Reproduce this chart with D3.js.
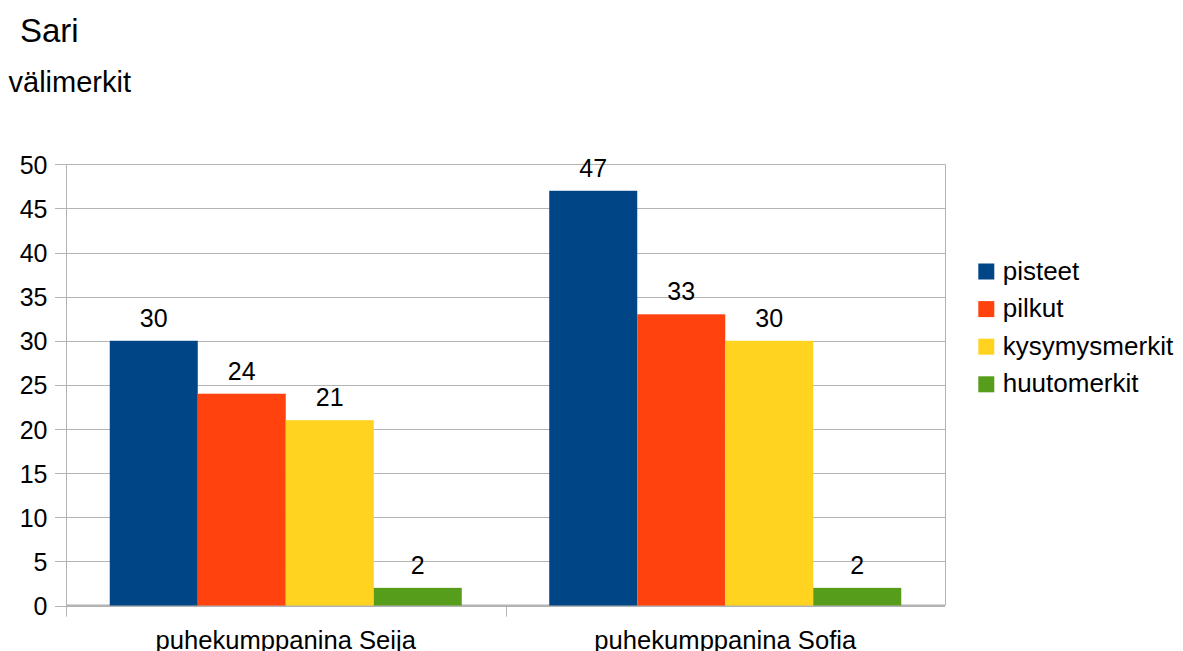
<!DOCTYPE html>
<html>
<head>
<meta charset="utf-8">
<script src="https://cdn.jsdelivr.net/npm/d3@7/dist/d3.min.js"></script>
<style>
  html, body { margin: 0; padding: 0; background: #fff; }
  svg { display: block; font-family: "Liberation Sans", Arial, sans-serif; }
</style>
</head>
<body>
<svg id="chart" width="1183" height="651"></svg>
<script>
// Punctuation counts per conversation partner
const categories = ["puhekumppanina Seija", "puhekumppanina Sofia"];
const seriesNames = ["pisteet", "pilkut", "kysymysmerkit", "huutomerkit"];
const pisteet = [30, 47];
const pilkut = [24, 33];
const kysymysmerkit = [21, 30];
const huutomerkit = [2, 2];
const yTicks = [0, 5, 10, 15, 20, 25, 30, 35, 40, 45, 50];
const colors = ["#004586", "#ff420e", "#ffd320", "#579d1c"];

const seriesValues = [pisteet, pilkut, kysymysmerkit, huutomerkit];

const svg = d3.select("#chart");
const plot = { left: 66, right: 945, top: 164.3, bottom: 605.5 };

const x0 = d3.scaleBand().domain(categories).range([plot.left, plot.right]).paddingInner(0).paddingOuter(0);
const x1 = d3.scaleBand().domain(seriesNames).range([0, x0.bandwidth()]).paddingInner(0).paddingOuter(0.497);
const y = d3.scaleLinear().domain([0, 50]).range([plot.bottom, plot.top]);

// Titles
svg.append("text").attr("x", 20).attr("y", 42).attr("font-size", 33).attr("fill", "#000").text("Sari");
svg.append("text").attr("x", 8.5).attr("y", 91.5).attr("font-size", 29).attr("fill", "#000").text("välimerkit");

// Horizontal gridlines
svg.append("g").selectAll("line").data(yTicks).join("line")
  .attr("x1", 55).attr("x2", plot.right)
  .attr("y1", d => Math.round(y(d)) + 0.5).attr("y2", d => Math.round(y(d)) + 0.5)
  .attr("stroke", "#b3b3b3").attr("stroke-width", 1);

// Right border of plot area
svg.append("line").attr("x1", plot.right + 0.5).attr("x2", plot.right + 0.5)
  .attr("y1", plot.top).attr("y2", plot.bottom)
  .attr("stroke", "#b3b3b3");

// Y axis
const yAxis = d3.axisLeft(y).tickValues(yTicks).tickSize(0).tickPadding(19);
const gy = svg.append("g").attr("transform", `translate(${plot.left + 0.5},0)`).call(yAxis);
gy.select(".domain").attr("stroke", "#b3b3b3").attr("d", `M0,${plot.top}V${plot.bottom + 11}`);
gy.selectAll("text").attr("font-size", 25).attr("fill", "#000").attr("font-family", "Liberation Sans, Arial, sans-serif").attr("dy", "0.36em");

// X axis
const xAxis = d3.axisBottom(x0).tickSize(0).tickPadding(0);
const gx = svg.append("g").attr("transform", `translate(0,${plot.bottom})`).call(xAxis);
gx.select(".domain").attr("stroke", "#b3b3b3").attr("stroke-width", 2).attr("d", `M${plot.left},0H${plot.right}`);
gx.selectAll("text").attr("font-size", 25.6).attr("fill", "#000")
  .attr("font-family", "Liberation Sans, Arial, sans-serif").attr("dy", null).attr("y", 43);
// Category separator tick
const sepX = [plot.left + x0.bandwidth()];
svg.append("g").selectAll("line").data(sepX).join("line")
  .attr("x1", d => Math.round(d) + 0.5).attr("x2", d => Math.round(d) + 0.5)
  .attr("y1", plot.bottom).attr("y2", plot.bottom + 11)
  .attr("stroke", "#b3b3b3");

// Bars
const groups = svg.append("g").selectAll("g").data(categories).join("g")
  .attr("transform", d => `translate(${x0(d)},0)`);
groups.each(function(cat, ci) {
  const g = d3.select(this);
  const rows = seriesNames.map((s, si) => ({ s, si, v: seriesValues[si][ci] }));
  g.selectAll("rect").data(rows).join("rect")
    .attr("x", d => x1(d.s))
    .attr("width", x1.bandwidth())
    .attr("y", d => y(d.v))
    .attr("height", d => y(0) - y(d.v))
    .attr("fill", d => colors[d.si]);
  g.selectAll("text").data(rows).join("text")
    .attr("x", d => x1(d.s) + x1.bandwidth() / 2)
    .attr("y", d => y(d.v) - 14)
    .attr("text-anchor", "middle")
    .attr("font-size", 25)
    .attr("fill", "#000")
    .text(d => d.v);
});

// Legend
const legend = svg.append("g").selectAll("g").data(seriesNames).join("g")
  .attr("transform", (d, i) => `translate(978.3,${263.5 + i * 37.6})`);
legend.append("rect").attr("width", 16).attr("height", 16).attr("fill", (d, i) => colors[i]);
legend.append("text").attr("x", 24.4).attr("y", 16).attr("font-size", 26).attr("fill", "#000").text(d => d);
</script>
</body>
</html>
